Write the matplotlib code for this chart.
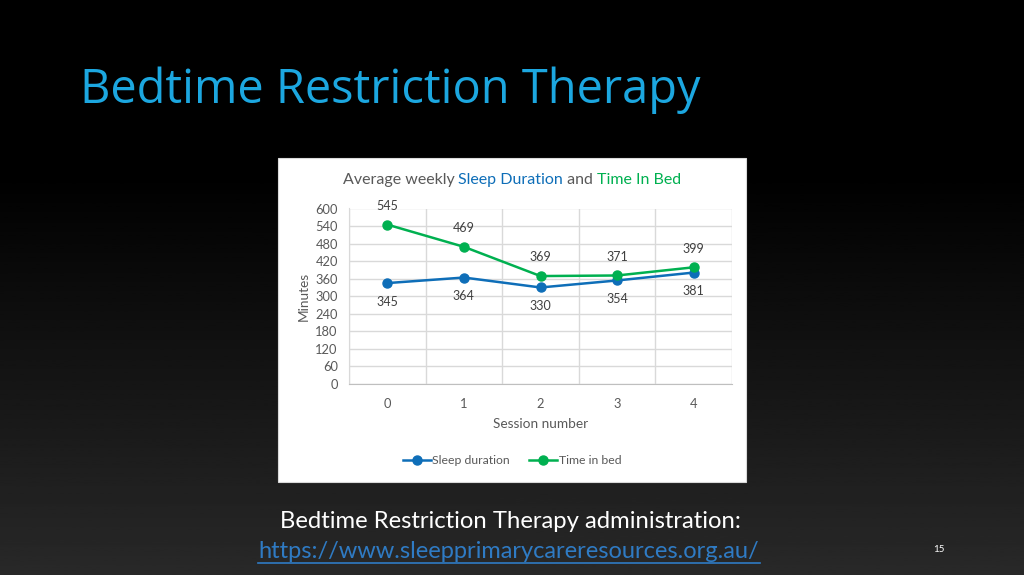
import matplotlib
matplotlib.use("Agg")
import matplotlib.pyplot as plt
import numpy as np

sessions = [0, 1, 2, 3, 4]
sleep_duration = [345, 364, 330, 354, 381]
time_in_bed = [545, 469, 369, 371, 399]
y_ticks = list(range(0, 601, 60))

blue = "#0E6EB8"
green = "#00B050"
gray_text = "#595959"
grid_col = "#D9D9D9"

plt.rcParams["font.family"] = ["Lato", "DejaVu Sans"]

fig = plt.figure(figsize=(10.24, 5.75), dpi=100)

# slide background: black fading to dark gray
bg = fig.add_axes([0, 0, 1, 1], zorder=-5)
grad = np.linspace(0, 1, 256).reshape(-1, 1)
grad = np.clip((grad - 0.3) / 0.7, 0, 1) * 0.16
bg.imshow(grad, cmap="gray", vmin=0, vmax=1, aspect="auto", extent=[0, 1, 0, 1])
bg.set_xlim(0, 1)
bg.set_ylim(0, 1)
bg.axis("off")

fig.text(80 / 1024, 1 - 90 / 575, "Bedtime Restriction Therapy", color="#1CA7E0",
         fontsize=33.8, family=["Open Sans", "DejaVu Sans"], va="center", ha="left")

# white chart panel
panel = plt.Rectangle((278 / 1024, 93 / 575), 468 / 1024, 324 / 575, transform=fig.transFigure,
                      facecolor="white", edgecolor="#D9D9D9", lw=0.8, zorder=-1)
fig.patches.append(panel)

ax = fig.add_axes([349 / 1024, 191 / 575, 383 / 1024, 175.5 / 575], zorder=2)
ax.set_facecolor("white")
ax.plot(sessions, sleep_duration, color=blue, lw=1.8, marker="o", ms=6.5, label="Sleep duration", zorder=3)
ax.plot(sessions, time_in_bed, color=green, lw=1.8, marker="o", ms=6.5, label="Time in bed", zorder=3)

for x, v in zip(sessions, sleep_duration):
    ax.annotate(str(v), (x, v), xytext=(0, -13.5), textcoords="offset points",
                ha="center", va="center", fontsize=9, color="#404040")
for x, v in zip(sessions, time_in_bed):
    ax.annotate(str(v), (x, v), xytext=(0, 13.5), textcoords="offset points",
                ha="center", va="center", fontsize=9, color="#404040")

ax.set_xlim(-0.5, 4.5)
ax.set_ylim(0, 600)
ax.set_yticks(y_ticks)
ax.set_xticks(sessions)
ax.set_xticks(np.arange(-0.5, 5, 1), minor=True)
ax.grid(True, axis="y", color=grid_col, lw=1)
ax.grid(True, axis="x", which="minor", color=grid_col, lw=1)
ax.tick_params(axis="both", which="both", length=0, labelsize=9.3, labelcolor=gray_text)
ax.tick_params(axis="x", pad=10)
ax.tick_params(axis="y", pad=8)
for s in ["top", "right"]:
    ax.spines[s].set_visible(False)
ax.spines["left"].set_color(grid_col)
ax.spines["bottom"].set_color("#BFBFBF")
ax.set_xlabel("Session number", fontsize=9.8, color=gray_text, labelpad=6)
ax.set_ylabel("Minutes", fontsize=9.8, color=gray_text, labelpad=4)
ax.set_axisbelow(True)

ax.legend(loc="center", bbox_to_anchor=(512 / 1024, 1 - 461 / 575), bbox_transform=fig.transFigure,
          ncol=2, frameon=False, fontsize=8.8, handlelength=2.3, columnspacing=1.6,
          handletextpad=0.1, labelcolor=gray_text)

# multi-coloured chart title
parts = [("Average weekly ", gray_text), ("Sleep Duration", blue), (" and ", gray_text), ("Time In Bed", green)]
renderer = fig.canvas.get_renderer()
texts = []
widths = []
for s, c in parts:
    t = fig.text(0, 1 - 180 / 575, s, color=c, fontsize=11.5, va="center", ha="left")
    widths.append(t.get_window_extent(renderer).width)
    texts.append(t)
total = sum(widths)
x0 = 512 - total / 2
for t, w in zip(texts, widths):
    t.set_x(x0 / 1024)
    x0 += w

fig.text(510 / 1024, 1 - 522 / 575, "Bedtime Restriction Therapy administration:", color="white",
         fontsize=17.2, ha="center", va="center")
fig.text(509 / 1024, 1 - 551 / 575, "https://www.sleepprimarycareresources.org.au/", color="#2F7BC4",
         fontsize=17, ha="center", va="center")
fig.add_artist(plt.Line2D([258 / 1024, 760 / 1024], [1 - 563 / 575, 1 - 563 / 575], color="#2F7BC4", lw=1.2))
fig.text(939 / 1024, 1 - 549 / 575, "15", color="white", fontsize=7, ha="center", va="center")

fig.savefig("out.png", dpi=100, facecolor="black")
